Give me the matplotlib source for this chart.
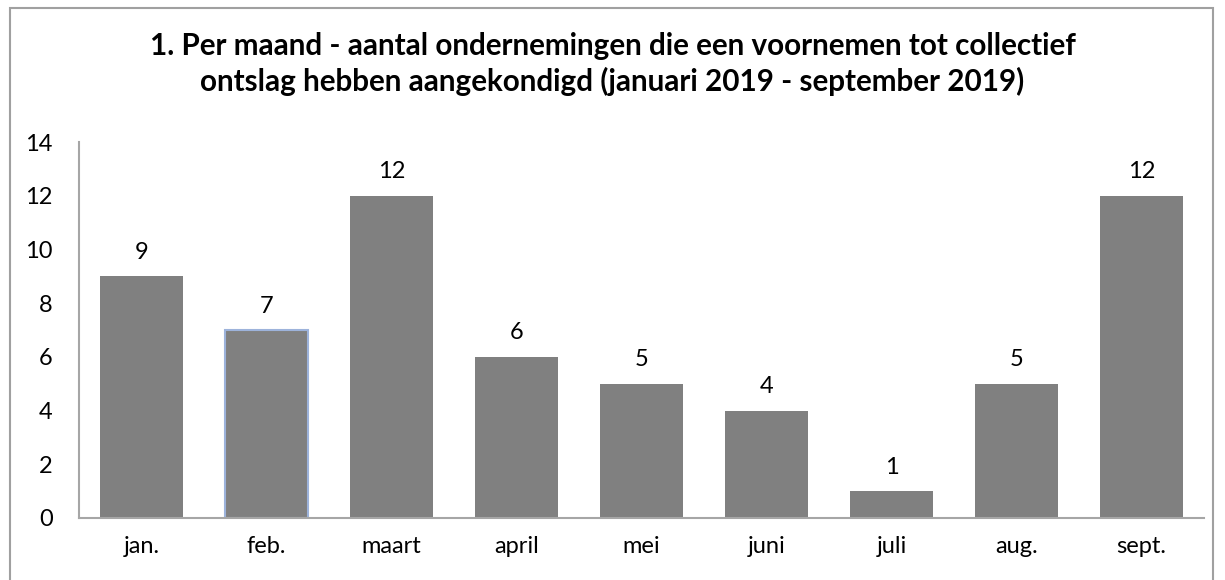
import matplotlib.pyplot as plt
from matplotlib.patches import Rectangle

months = ["jan.", "feb.", "maart", "april", "mei", "juni", "juli", "aug.", "sept."]
counts = [9, 7, 12, 6, 5, 4, 1, 5, 12]
title = ("1. Per maand - aantal ondernemingen die een voornemen tot collectief\n"
         "ontslag hebben aangekondigd (januari 2019 - september 2019)")

plt.rcParams['font.family'] = ['Lato', 'DejaVu Sans']

fig = plt.figure(figsize=(12.25, 5.8), dpi=100)
ax = fig.add_axes([79 / 1225, 1 - 518 / 580, 1125 / 1225, 376 / 580])

x = range(len(months))
bars = ax.bar(x, counts, width=0.66, color="#808080", zorder=2)
bars[1].set_edgecolor("#9DB3DB")
bars[1].set_linewidth(1.5)

for i, v in enumerate(counts):
    ax.text(i, v + 0.5, str(v), ha="center", va="bottom", fontsize=17)

ax.set_xlim(-0.5, len(months) - 0.5)
ax.set_ylim(0, 14)
ax.set_yticks(range(0, 15, 2))
ax.set_xticks(list(x))
ax.set_xticklabels(months)
ax.tick_params(axis="both", length=0, labelsize=17)
ax.tick_params(axis="y", pad=19)
ax.tick_params(axis="x", pad=13)

for s in ["top", "right"]:
    ax.spines[s].set_visible(False)
for s in ["left", "bottom"]:
    ax.spines[s].set_color("#A6A6A6")
    ax.spines[s].set_linewidth(1.5)

fig.text(0.5, 1 - 64 / 580, title, ha="center", va="center", fontsize=21.3,
         fontweight="bold", linespacing=1.25)

fig.patches.append(Rectangle((10 / 1225, -0.05), 1203 / 1225, 1.05 - 8 / 580,
                             transform=fig.transFigure, fill=False,
                             edgecolor="#A0A0A0", linewidth=1.5))

fig.savefig("out.png", dpi=100)
